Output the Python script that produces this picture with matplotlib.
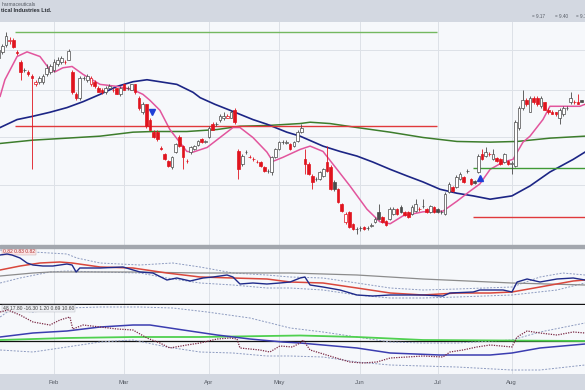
import numpy as np
import pandas as pd
import matplotlib
matplotlib.use("Agg")
import matplotlib.pyplot as plt
from matplotlib.patches import Rectangle

# trading calendar (NYSE 2023) for the visible window
HOLIDAYS = ["2023-01-16", "2023-02-20", "2023-04-07",
            "2023-05-29", "2023-06-19", "2023-07-04"]
dates = pd.bdate_range("2023-01-10", periods=160, freq="C", holidays=HOLIDAYS)

# ---- daily OHLC ----
opens = [10.53, 10.62, 10.73, 10.79, 10.80, 10.62, 10.46, 10.35, 10.32, 10.26, 10.13, 10.17, 10.17, 10.28, 10.31,
         10.35, 10.43, 10.46, 10.47, 10.50, 10.32, 9.99, 9.93, 10.22, 10.20,
         10.13, 10.16, 10.08, 10.05, 10.02, 10.08, 10.04, 10.07, 9.98, 10.13,
         10.08, 10.05, 10.13, 9.93, 9.71, 9.83, 9.60, 9.42, 9.42, 9.17,
         9.08, 8.97, 8.88, 9.11, 9.33, 9.20, 8.97, 9.11, 9.15, 9.21,
         9.30, 9.26, 9.33, 9.53, 9.54, 9.59, 9.62, 9.63, 9.63, 9.74,
         9.12, 8.93, 9.11, 9.03, 9.00, 8.96, 8.96, 8.88, 8.82, 8.81,
         9.03, 9.15, 9.26, 9.24, 9.23, 9.20, 9.27, 9.41, 9.00, 8.93,
         8.75, 8.70, 8.70, 8.75, 8.96, 8.88, 8.66, 8.55, 8.33, 8.06,
         8.21, 8.03, 7.95, 7.97, 7.98, 7.97, 8.00, 8.06, 8.21, 8.13,
         8.07, 8.10, 8.18, 8.25, 8.28, 8.21, 8.21, 8.18, 8.22, 8.25,
         8.30, 8.25, 8.21, 8.28, 8.25, 8.21, 8.18, 8.51, 8.58, 8.58,
         8.70, 8.73, 8.82, 8.70, 8.67, 8.81, 9.08, 9.05, 9.08, 9.00,
         9.02, 9.00, 8.96, 8.97, 8.93, 8.90, 9.48, 9.78, 9.90, 9.72,
         9.93, 9.93, 9.80, 9.86, 9.75, 9.72, 9.71, 9.63, 9.68, 9.78,
         9.86, 9.86, 9.87, 9.89, 9.83]
highs = [10.71, 10.74, 10.92, 10.85, 10.83, 10.65, 10.50, 10.38, 10.35, 10.28, 10.20, 10.26, 10.28, 10.43, 10.44,
         10.52, 10.55, 10.56, 10.50, 10.67, 10.35, 10.02, 10.26, 10.26, 10.29,
         10.26, 10.19, 10.11, 10.07, 10.11, 10.14, 10.07, 10.08, 10.10, 10.14,
         10.11, 10.14, 10.14, 9.96, 9.86, 9.84, 9.63, 9.45, 9.44, 9.20,
         9.09, 8.99, 9.05, 9.24, 9.36, 9.21, 9.00, 9.20, 9.21, 9.29,
         9.32, 9.29, 9.51, 9.56, 9.57, 9.68, 9.71, 9.68, 9.75, 9.77,
         9.15, 9.08, 9.14, 9.06, 9.03, 8.99, 8.97, 8.90, 8.85, 9.05,
         9.17, 9.27, 9.29, 9.29, 9.24, 9.27, 9.45, 9.54, 9.15, 8.96,
         8.78, 8.73, 8.82, 8.87, 9.20, 8.91, 8.69, 8.57, 8.34, 8.21,
         8.22, 8.04, 7.98, 8.00, 8.00, 8.00, 8.04, 8.13, 8.33, 8.15,
         8.09, 8.28, 8.28, 8.27, 8.31, 8.22, 8.22, 8.31, 8.40, 8.28,
         8.40, 8.27, 8.31, 8.30, 8.27, 8.24, 8.51, 8.66, 8.60, 8.76,
         8.81, 8.75, 8.85, 8.72, 8.69, 9.08, 9.15, 9.18, 9.11, 9.15,
         9.03, 9.02, 9.09, 8.99, 8.97, 9.60, 9.81, 10.05, 9.92, 9.95,
         9.95, 9.95, 9.95, 9.87, 9.77, 9.74, 9.72, 9.77, 9.80, 9.81,
         10.01, 9.89, 9.98, 9.90, 9.86]
lows = [10.50, 10.59, 10.70, 10.74, 10.68, 10.58, 10.20, 10.31, 10.26, 8.85, 10.10, 10.14, 10.14, 10.25, 10.28,
        10.32, 10.41, 10.44, 10.44, 10.49, 9.98, 9.89, 9.90, 10.20, 10.17,
        10.11, 10.08, 10.01, 9.98, 9.98, 10.07, 10.02, 9.98, 9.96, 10.04,
        10.05, 10.04, 9.99, 9.75, 9.68, 9.48, 9.44, 9.32, 9.27, 9.14,
        8.99, 8.88, 8.85, 9.09, 9.18, 8.85, 8.94, 9.08, 9.14, 9.20,
        9.24, 9.24, 9.32, 9.44, 9.51, 9.57, 9.60, 9.62, 9.62, 9.54,
        8.70, 8.90, 9.08, 9.02, 8.97, 8.94, 8.88, 8.81, 8.79, 8.76,
        9.02, 9.14, 9.23, 9.23, 9.14, 9.18, 9.26, 9.39, 8.78, 8.76,
        8.55, 8.67, 8.69, 8.73, 8.81, 8.54, 8.52, 8.34, 8.21, 8.03,
        7.97, 7.94, 7.88, 7.92, 7.94, 7.94, 7.98, 8.04, 8.09, 8.04,
        8.00, 8.09, 8.16, 8.16, 8.19, 8.15, 8.12, 8.16, 8.21, 8.22,
        8.27, 8.19, 8.19, 8.19, 8.19, 8.18, 8.16, 8.49, 8.51, 8.57,
        8.69, 8.64, 8.79, 8.61, 8.63, 8.79, 8.99, 9.03, 9.05, 8.99,
        8.96, 8.91, 8.94, 8.91, 8.78, 8.88, 9.45, 9.75, 9.81, 9.71,
        9.84, 9.81, 9.78, 9.74, 9.69, 9.68, 9.66, 9.53, 9.66, 9.75,
        9.84, 9.83, 9.83, 9.86, 9.81]
closes = [10.65, 10.71, 10.86, 10.80, 10.70, 10.61, 10.31, 10.34, 10.29, 10.22, 10.17, 10.23, 10.25, 10.38, 10.40,
          10.47, 10.50, 10.53, 10.47, 10.64, 10.01, 9.92, 10.23, 10.23, 10.26,
          10.23, 10.10, 10.02, 10.01, 10.08, 10.11, 10.04, 9.99, 10.08, 10.05,
          10.08, 10.13, 10.01, 9.78, 9.83, 9.50, 9.45, 9.33, 9.30, 9.15,
          9.00, 8.90, 9.03, 9.23, 9.20, 9.03, 8.97, 9.18, 9.20, 9.27,
          9.26, 9.27, 9.48, 9.45, 9.54, 9.66, 9.66, 9.65, 9.72, 9.57,
          8.85, 9.05, 9.11, 9.03, 9.00, 8.96, 8.90, 8.82, 8.82, 9.03,
          9.15, 9.26, 9.26, 9.26, 9.15, 9.26, 9.42, 9.48, 8.93, 8.78,
          8.66, 8.70, 8.81, 8.85, 8.82, 8.55, 8.55, 8.36, 8.22, 8.18,
          7.98, 7.95, 7.95, 7.97, 7.95, 7.97, 8.01, 8.10, 8.10, 8.06,
          8.01, 8.25, 8.25, 8.18, 8.21, 8.16, 8.13, 8.28, 8.33, 8.25,
          8.30, 8.21, 8.30, 8.21, 8.21, 8.21, 8.48, 8.63, 8.52, 8.73,
          8.78, 8.66, 8.82, 8.63, 8.64, 9.05, 9.00, 9.11, 9.08, 9.08,
          8.97, 8.93, 9.08, 8.93, 8.94, 9.56, 9.78, 9.90, 9.83, 9.93,
          9.86, 9.83, 9.93, 9.75, 9.71, 9.69, 9.68, 9.75, 9.78, 9.78,
          9.93, 9.86, 9.84, 9.87, 9.83]

# ---- price overlays (trading-day position, value) ----
ema_day = [0.4, 1.7, 5, 7.7, 11.2, 13.9, 15.3, 17.4, 19.9, 22.9, 27.5, 32.1, 36.4, 39.1, 41, 43.7,
           46.4, 51, 52.7, 56.5, 60, 63.5, 65.4, 68.9, 72.7, 74.3, 77, 81.7, 84.4, 87.9, 91.7, 95.2,
           99.8, 103.3, 106.1, 109.6, 115, 120.4, 124.2, 127.7, 130.4, 133.2, 136.7, 139.4, 142.1,
           144, 147.5, 149.4, 152.1, 157.5, 158.9]
ema_val = [9.95, 10.20, 10.55, 10.62, 10.55, 10.35, 10.32, 10.38, 10.40, 10.28, 10.13, 10.10, 10.05,
           9.98, 9.89, 9.74, 9.45, 9.12, 9.11, 9.18, 9.33, 9.48, 9.48, 9.33, 9.11, 8.97, 9.03, 9.15,
           9.20, 9.12, 8.85, 8.60, 8.25, 8.06, 8.03, 8.15, 8.21, 8.22, 8.37, 8.52, 8.63, 8.85, 8.96,
           9.00, 9.26, 9.35, 9.60, 9.80, 9.80, 9.80, 9.83]
sma50_day = [0.4, 5, 9.3, 13.9, 18.5, 22.9, 27.5, 32.1, 36.4, 40.2, 43.7, 48.3, 52.7, 54.6, 58.6,
             62.7, 68.9, 72.7, 78.1, 81.7, 87.9, 92.5, 97.1, 101.4, 106.1, 110.7, 115, 119.6,
             124.2, 128.6, 133.2, 139.1, 144, 149.4, 155.7, 158.9]
sma50_val = [9.48, 9.60, 9.65, 9.71, 9.78, 9.87, 9.98, 10.10, 10.17, 10.20, 10.17, 10.13, 10.01, 9.93,
             9.83, 9.74, 9.60, 9.53, 9.41, 9.35, 9.20, 9.12, 9.05, 8.96, 8.85, 8.75, 8.66, 8.55,
             8.49, 8.45, 8.40, 8.45, 8.60, 8.81, 9.00, 9.11]
sma200_day = [0.4, 9.3, 18.5, 27.5, 36.4, 41.8, 51, 59.2, 65.4, 72.7, 81.7, 84.4, 89.8, 97.1,
              106.1, 115, 124.2, 133.2, 140.5, 149.4, 158.9]
sma200_val = [9.24, 9.29, 9.32, 9.35, 9.41, 9.42, 9.42, 9.45, 9.50, 9.51, 9.54, 9.56, 9.54, 9.48,
              9.41, 9.33, 9.27, 9.26, 9.27, 9.32, 9.35]

# horizontal levels: (start day, end day, price)
green_level = (4.4, 118.8, 10.92)
red_level = (4.4, 118.8, 9.51)
green_level2 = (128.6, 160.0, 8.87)
red_level2 = (128.6, 160.0, 8.13)
signal_down = (41.6, 9.72)
signal_up = (130.4, 8.72)

# ---- middle panel ----
rs_day = [0.4, 2.3, 3.6, 5.8, 7.7, 9.3, 12, 14.7, 18.5, 19.9, 21, 22, 27.5, 33.7, 38.3, 41.8, 45.6,
          48.3, 51.9, 55.4, 58.1, 61.9, 63.5, 65.4, 68.9, 72.7, 76.2, 79, 81.7, 83, 84.4, 87.9, 92.5,
          97.1, 101.4, 106.1, 115, 120.4, 122.3, 128.6, 130.4, 136.7, 139.1, 140.5, 143.2, 146.7,
          151.3, 155.7, 158.9]
rs_val = [0.925, 0.93, 0.925, 0.91, 0.885, 0.875, 0.87, 0.87, 0.88, 0.875, 0.84, 0.86, 0.86, 0.865,
          0.84, 0.835, 0.80, 0.81, 0.795, 0.81, 0.815, 0.825, 0.815, 0.78, 0.785, 0.78, 0.785, 0.79,
          0.81, 0.815, 0.775, 0.765, 0.75, 0.725, 0.72, 0.725, 0.725, 0.72, 0.735, 0.74, 0.75, 0.75,
          0.74, 0.79, 0.805, 0.79, 0.805, 0.81, 0.80]
rs_ma_day = [0.4, 5.8, 11.2, 16.6, 19.9, 27.5, 36.4, 45.6, 54.6, 63.5, 72.7, 79, 87.9, 97.1, 106.1,
             115, 124.2, 133.2, 139.1, 146.7, 155.7, 158.9]
rs_ma_val = [0.85, 0.87, 0.885, 0.89, 0.885, 0.865, 0.86, 0.835, 0.815, 0.81, 0.805, 0.79, 0.785,
             0.76, 0.735, 0.725, 0.735, 0.735, 0.74, 0.765, 0.795, 0.80]
rs_long_day = [0.4, 9.3, 13.9, 36.4, 54.6, 79, 97.1, 115, 139.1, 158.9]
rs_long_val = [0.82, 0.835, 0.84, 0.84, 0.835, 0.835, 0.825, 0.805, 0.785, 0.775]
rs_up_day = [0.4, 9.3, 18.5, 21.2, 27.5, 38.3, 47.2, 54.6, 63.5, 72.7, 79, 87.9, 97.1, 106.1, 115,
             124.2, 139.1, 146.7, 152.9, 158.9]
rs_up_val = [0.95, 0.94, 0.93, 0.91, 0.885, 0.875, 0.885, 0.865, 0.835, 0.825, 0.815, 0.81, 0.785,
             0.76, 0.75, 0.755, 0.765, 0.815, 0.835, 0.825]
rs_lo_day = [0.4, 5.8, 13.9, 18.5, 27.5, 38.3, 45.6, 54.6, 63.5, 72.7, 79, 87.9, 97.1, 106.1, 115,
             124.2, 139.1, 151.3, 158.9]
rs_lo_val = [0.785, 0.81, 0.84, 0.845, 0.84, 0.835, 0.81, 0.785, 0.775, 0.76, 0.76, 0.75, 0.725,
             0.71, 0.71, 0.715, 0.725, 0.75, 0.785]

# ---- lower panel ----
osc_day = [0.4, 2.5, 5.8, 9.3, 13.9, 16.6, 19.3, 20.1, 22.9, 27.5, 32.1, 36.4, 40.2, 43.7, 46.4,
           51, 54.6, 59.2, 62.7, 64.6, 65.4, 70.8, 73.5, 76.2, 79.6, 81.7, 82.5, 84.4, 87.1, 90.6,
           95.2, 98.7, 102.5, 106.1, 110.7, 115, 120.4, 122.3, 125.8, 129.6, 133.2, 139.1, 140.5,
           143.2, 146.7, 151.3, 155.7, 158.9]
osc_val = [14.5, 15.5, 13, 9.5, 8, 10.5, 12, 6, 8, 7, 6, 5.5, 1.5, -1, -3.5, -2, -1, 1, 1.5, 1,
           -3.5, -4.5, -5.5, -2.5, -3, -1, 0.5, -4.5, -6, -8, -10.5, -11, -10.5, -8.5, -8, -7.5, -8,
           -5.5, -4.5, -3, -2, -3, 2, 5, 4, 3, 4.5, 4]
osc_ma_day = [0.4, 9.3, 18.5, 27.5, 36.4, 41, 50, 59.2, 68.1, 77, 81.7, 87.9, 97.1, 106.1, 119.6,
              133.2, 139.1, 146.7, 158.9]
osc_ma_val = [2, 4, 5, 7, 8, 8, 5.5, 3, 1, -0.5, -1, -2, -3.5, -6, -7, -7, -6, -3.5, -1.5]
osc_sig_day = [0.4, 18.5, 36.4, 54.6, 72.7, 81.7, 97.1, 115, 158.9]
osc_sig_val = [0.5, 1.5, 2, 2, 2.5, 2.75, 2, 0.5, 0]
osc_up_day = [0.4, 3.1, 9.3, 18.5, 27.5, 38.3, 47.2, 56.5, 68.1, 79, 87.9, 97.1, 106.1, 115,
              124.2, 139.1, 146.7, 158.9]
osc_up_val = [12, 15.5, 14.5, 16.5, 17, 17, 16.5, 14.5, 11.5, 6.5, 4.5, 2, -0.5, -1, -1, 0.5,
              4.5, 9]
osc_lo_day = [0.4, 9.3, 18.5, 27.5, 36.4, 45.6, 54.6, 63.5, 72.7, 79, 87.9, 97.1, 106.1, 115,
              124.2, 139.1, 146.7, 158.9]
osc_lo_val = [-4.5, -5.5, -3, -0.5, 0.5, -3, -5.5, -6, -7.5, -7.5, -8, -10.5, -12, -12.5, -13,
              -14.5, -14.5, -12]

# header readouts
name_top = "harmaceuticals"
name_main = "tical Industries Ltd."
readouts = ["9.17", "9.40", "9.1"]
rs_label = "0.82 0.83 0.82"
osc_label = "48 17.80 -16.30 1.20 0.69 10.60"

BG = "#d3d8e1"
PANEL = "#f6f8fb"
GRID = "#dde1e7"
plt.rcParams["font.family"] = ["Liberation Sans", "DejaVu Sans"]

fig = plt.figure(figsize=(5.85, 3.9), dpi=100, facecolor=BG)
H = 390.0
ax = fig.add_axes([0, 145 / H, 1, 223 / H], facecolor=PANEL)
ax2 = fig.add_axes([0, 86 / H, 1, 56 / H], facecolor=PANEL)
ax3 = fig.add_axes([0, 16 / H, 1, 69 / H], facecolor=PANEL)
fig.patches.append(Rectangle((0, 142 / H), 1, 3 / H, transform=fig.transFigure,
                             color="#a3a7ae", zorder=0))

x = np.arange(len(closes))
xlim = (0.37, 158.9)

# month grid
month_pos = [i for i in range(1, len(dates)) if dates[i].month != dates[i - 1].month]
for a in (ax, ax2, ax3):
    a.set_xlim(*xlim)
    for p in month_pos:
        a.axvline(p, color=GRID, lw=0.7, zorder=0)
    for s in a.spines.values():
        s.set_visible(False)
    a.tick_params(length=0, labelleft=False, labelbottom=False)
    a.set_yticks([])

# ---- main price panel ----
ax.set_ylim(7.71, 11.07)
for lvl in (10.65, 10.05, 9.33, 8.61):
    ax.axhline(lvl, color=GRID, lw=0.7, zorder=0)

ax.plot(sma200_day, sma200_val, color="#3d7d2c", lw=1.1, zorder=2)
ax.plot(sma50_day, sma50_val, color="#1c2585", lw=1.2, zorder=2)
ax.plot(ema_day, ema_val, color="#e2559d", lw=1.1, zorder=2)
for (x0, x1, v), c in ((green_level, "#74b860"), (red_level, "#e0393b"),
                       (green_level2, "#3f9a35"), (red_level2, "#e0393b")):
    ax.hlines(v, x0, x1, color=c, lw=1.0, zorder=2)

o = np.array(opens)
h = np.array(highs)
l = np.array(lows)
c = np.array(closes)
prev = np.concatenate([[c[0]], c[:-1]])
edge = np.where(c < prev, "#e0141e", "#4a4a4a")
face = np.where(c > o, "white", edge)
ax.vlines(x, l, h, colors=edge, lw=0.6, zorder=3)
ax.bar(x, np.abs(c - o), bottom=np.minimum(o, c), width=0.72, color=face,
       edgecolor=edge, linewidth=0.5, zorder=4)

ax.plot(*signal_down, marker="v", color="#1f3fd6", ms=4.5, zorder=5)
ax.plot(*signal_up, marker="^", color="#1f3fd6", ms=4.5, zorder=5)

# ---- middle panel ----
ax2.set_ylim(0.68, 0.96)
ax2.plot(rs_up_day, rs_up_val, color="#8d9bc0", lw=0.7, ls=(0, (2, 1.5)), zorder=2)
ax2.plot(rs_lo_day, rs_lo_val, color="#8d9bc0", lw=0.7, ls=(0, (2, 1.5)), zorder=2)
ax2.plot(rs_long_day, rs_long_val, color="#8c8c8c", lw=0.9, zorder=2)
ax2.plot(rs_ma_day, rs_ma_val, color="#d9473c", lw=1.1, zorder=3)
ax2.plot(rs_day, rs_val, color="#1f2a8a", lw=1.0, zorder=4)
ax2.spines["bottom"].set_visible(True)
ax2.spines["bottom"].set_color("#111111")
ax2.spines["bottom"].set_linewidth(1.0)
ax2.text(0.005, 0.985, rs_label, transform=ax2.transAxes, fontsize=3.6, va="top",
         color="#b03030", bbox=dict(boxstyle="square,pad=0.15", fc="#fbe4e4", ec="#c0a0a0", lw=0.3))

# ---- lower panel ----
ax3.set_ylim(-16.5, 18)
ax3.axhline(0, color="#111111", lw=0.9, zorder=1)
ax3.plot(osc_up_day, osc_up_val, color="#8d9bc0", lw=0.7, ls=(0, (2, 1.5)), zorder=2)
ax3.plot(osc_lo_day, osc_lo_val, color="#8d9bc0", lw=0.7, ls=(0, (2, 1.5)), zorder=2)
ax3.plot(osc_sig_day, osc_sig_val, color="#4fd04f", lw=1.3, zorder=2)
ax3.plot(osc_ma_day, osc_ma_val, color="#3b3db0", lw=1.1, zorder=3)
ax3.plot(osc_day, osc_val, color="#7a2844", lw=0.9, ls=(0, (1, 1)), zorder=4)
ax3.text(0.005, 0.985, osc_label, transform=ax3.transAxes, fontsize=3.6, va="top",
         color="#444444", bbox=dict(boxstyle="square,pad=0.15", fc="#eef0f4", ec="#b0b4bb", lw=0.3))

# month labels in bottom band
ax3.set_xticks(month_pos)
ax3.set_xticklabels([dates[p].strftime("%b") for p in month_pos])
ax3.tick_params(axis="x", labelbottom=True, labelsize=4.3, labelcolor="#555a63", pad=4)

# header text
fig.text(0.002, 1 - 4 / H, name_top, fontsize=3.6, color="#555a63", va="center")
fig.text(0.002, 1 - 11 / H, name_main, fontsize=4.0, fontweight="bold", color="#2b2f36", va="center")
xs = [0.910, 0.948, 0.984]
for xx, t in zip(xs, readouts):
    fig.text(xx, 1 - 17 / H, "= " + t, fontsize=3.3, color="#555a63", va="center")

fig.savefig("out.png", dpi=100, facecolor=BG)
